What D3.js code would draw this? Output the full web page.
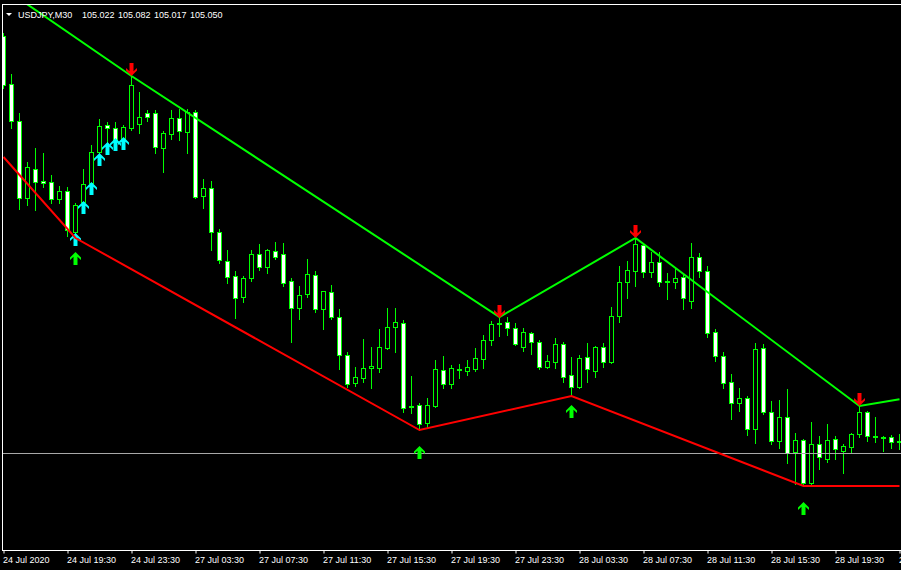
<!DOCTYPE html>
<html><head><meta charset="utf-8">
<script src="https://cdn.jsdelivr.net/npm/d3@7"></script>
<style>html,body{margin:0;padding:0;background:#000;}svg{display:block;}</style>
</head><body>
<script>
// ---------- data (USDJPY M30, bars 24 Jul 15:30 .. 28 Jul 23:30) ----------
const symbolTitle = "USDJPY,M30";
const headerValues = ["105.022", "105.082", "105.017", "105.050"];

const tickLabels = ["24 Jul 2020","24 Jul 19:30","24 Jul 23:30","27 Jul 03:30","27 Jul 07:30","27 Jul 11:30","27 Jul 15:30","27 Jul 19:30","27 Jul 23:30","28 Jul 03:30","28 Jul 07:30","28 Jul 11:30","28 Jul 15:30","28 Jul 19:30","28 Jul 23:30"];
const tickBars = [0,8,16,24,32,40,48,56,64,72,80,88,96,104,112];

const open = [
106.257,106.113,106.002,105.771,105.858,105.822,105.819,105.768,105.792,105.669,
105.759,105.816,105.909,105.990,105.981,105.945,105.981,105.993,106.026,106.026,
105.921,105.963,106.011,105.969,106.029,105.777,105.801,105.669,105.582,105.537,
105.474,105.531,105.603,105.564,105.612,105.603,105.522,105.441,105.483,105.540,
105.438,105.489,105.414,105.300,105.216,105.231,105.261,105.261,105.321,105.384,
105.396,105.147,105.150,105.096,105.147,105.255,105.213,105.255,105.252,105.258,
105.288,105.345,105.396,105.399,105.381,105.324,105.366,105.339,105.264,105.279,
105.333,105.240,105.204,105.294,105.252,105.324,105.279,105.417,105.519,105.552,
105.630,105.549,105.579,105.522,105.519,105.534,105.462,105.594,105.552,105.369,
105.297,105.219,105.156,105.171,105.078,105.321,105.129,105.042,105.114,105.009,
105.045,104.916,105.033,104.988,105.048,105.012,105.024,105.063,105.129,105.057,
105.054,105.054,105.039];
const high = [
106.266,106.143,106.026,105.879,105.921,105.906,105.840,105.807,105.804,105.756,
105.858,105.930,106.008,105.999,105.999,105.990,106.137,106.089,106.035,106.035,
105.972,106.035,106.038,106.038,106.035,105.828,105.822,105.678,105.615,105.552,
105.537,105.615,105.633,105.618,105.639,105.636,105.531,105.507,105.588,105.552,
105.492,105.510,105.438,105.309,105.264,105.348,105.324,105.378,105.441,105.441,
105.405,105.237,105.156,105.171,105.285,105.297,105.270,105.273,105.285,105.321,
105.360,105.402,105.414,105.414,105.396,105.381,105.369,105.345,105.300,105.351,
105.339,105.294,105.300,105.336,105.327,105.336,105.444,105.567,105.582,105.651,
105.636,105.609,105.609,105.546,105.564,105.540,105.636,105.606,105.567,105.378,
105.309,105.243,105.201,105.177,105.336,105.333,105.162,105.165,105.198,105.066,
105.048,105.099,105.057,105.093,105.057,105.033,105.066,105.147,105.132,105.114,
105.057,105.060,105.063];
const low = [
106.101,105.981,105.738,105.750,105.735,105.804,105.756,105.756,105.657,105.651,
105.747,105.807,105.903,105.930,105.924,105.936,105.975,105.966,106.002,105.906,
105.849,105.948,105.945,105.906,105.771,105.741,105.615,105.576,105.516,105.411,
105.459,105.522,105.555,105.546,105.588,105.507,105.339,105.408,105.474,105.429,
105.378,105.408,105.258,105.204,105.207,105.219,105.201,105.249,105.318,105.309,
105.129,105.126,105.075,105.081,105.144,105.201,105.201,105.231,105.240,105.252,
105.261,105.330,105.357,105.360,105.330,105.312,105.303,105.258,105.261,105.261,
105.219,105.177,105.201,105.219,105.234,105.264,105.276,105.399,105.471,105.507,
105.534,105.534,105.507,105.468,105.501,105.438,105.441,105.534,105.354,105.282,
105.201,105.108,105.132,105.060,105.036,105.123,105.033,105.021,104.976,104.913,
104.907,104.913,104.958,104.979,104.988,104.946,105.006,105.054,105.042,105.039,
105.012,105.021,105.018];
const close = [
106.110,106.002,105.771,105.864,105.819,105.816,105.768,105.792,105.675,105.750,
105.813,105.909,105.987,105.981,105.945,105.984,106.110,106.014,106.014,105.924,
105.966,106.011,105.972,106.029,105.774,105.801,105.669,105.585,105.534,105.471,
105.531,105.603,105.564,105.615,105.594,105.516,105.441,105.480,105.543,105.438,
105.492,105.414,105.300,105.213,105.234,105.261,105.267,105.324,105.384,105.399,
105.141,105.144,105.093,105.150,105.258,105.213,105.261,105.258,105.264,105.291,
105.345,105.393,105.393,105.381,105.333,105.369,105.339,105.264,105.282,105.333,
105.234,105.204,105.291,105.258,105.324,105.279,105.417,105.519,105.555,105.633,
105.549,105.579,105.519,105.519,105.531,105.471,105.594,105.552,105.366,105.297,
105.216,105.156,105.171,105.078,105.318,105.129,105.042,105.114,105.006,105.045,
104.916,105.033,104.994,105.045,105.018,105.027,105.063,105.129,105.057,105.054,
105.051,105.039,105.042];

// indicator lines: [bar index, price] pivots
const upperLineBars   = [0, 16, 62, 79, 107, 112];
const upperLinePrices = [106.401, 106.137, 105.414, 105.651, 105.147, 105.167];
const lowerLineBars   = [0, 9, 52, 71, 100, 112];
const lowerLinePrices = [105.894, 105.651, 105.075, 105.177, 104.907, 104.907];

// arrows (tip price)
const sellArrowBars   = [16, 62, 79, 107];
const sellArrowPrices = [106.137, 105.411, 105.651, 105.147];
const buyArrowBars    = [9, 52, 71, 100];
const buyArrowPrices  = [105.609, 105.027, 105.150, 104.859];
const cyanArrowBars   = [9, 10, 11, 12, 13, 14, 15];
const cyanArrowPrices = [105.666, 105.762, 105.819, 105.906, 105.939, 105.951, 105.954];

const hLinePrice = 105.007;

// ---------- drawing ----------
const W = 901, H = 570;
const plotTop = 5, plotBottom = 550, plotLeft = 3;
const svg = d3.select("body").append("svg").attr("width", W).attr("height", H);
svg.append("rect").attr("width", W).attr("height", H).attr("fill", "#000");

const x = d3.scaleLinear().domain([0, 112]).range([3, 899]);
const y = d3.scaleLinear().domain([104.715, 106.35]).range([plotBottom, plotTop]);

svg.append("clipPath").attr("id", "plotclip").append("rect")
  .attr("x", plotLeft).attr("y", plotTop).attr("width", W - plotLeft).attr("height", plotBottom - plotTop);
const plot = svg.append("g").attr("clip-path", "url(#plotclip)");

const GREEN = "#00ff00";
const bars = d3.range(open.length).map(i => ({i, o: open[i], h: high[i], l: low[i], c: close[i]}));

const cg = plot.append("g");
bars.forEach(b => {
  const cx = Math.round(x(b.i));
  const yh = Math.round(y(b.h)), yl = Math.round(y(b.l));
  cg.append("line").attr("x1", cx + 0.5).attr("x2", cx + 0.5)
    .attr("y1", yh).attr("y2", yl + 1).attr("stroke", GREEN).attr("stroke-width", 1);
  const top = Math.round(y(Math.max(b.o, b.c))), bot = Math.round(y(Math.min(b.o, b.c)));
  if (bot - top < 1) {
    cg.append("line").attr("x1", cx - 2).attr("x2", cx + 3)
      .attr("y1", top + 0.5).attr("y2", top + 0.5).attr("stroke", GREEN).attr("stroke-width", 1);
  } else {
    cg.append("rect").attr("x", cx - 1.5).attr("y", top + 0.5).attr("width", 4).attr("height", bot - top)
      .attr("fill", b.c < b.o ? "#ffffff" : "#000000").attr("stroke", GREEN).attr("stroke-width", 1);
  }
});

// arrow shapes (tip at 0,0, pointing up)
const upArrow = "M0,0 L5.5,5.5 L5.5,8 L2,4.8 L2,13 L-2,13 L-2,4.8 L-5.5,8 L-5.5,5.5 Z";
const downArrow = "M0,0 L5.5,-5.5 L5.5,-8 L2,-4.8 L2,-13 L-2,-13 L-2,-4.8 L-5.5,-8 L-5.5,-5.5 Z";

// cyan arrows
plot.append("g").selectAll("path").data(cyanArrowBars).join("path")
  .attr("d", upArrow).attr("fill", "#00ffff")
  .attr("transform", (d, k) => `translate(${Math.round(x(d)) + 0.5},${Math.round(y(cyanArrowPrices[k]))})`);

// horizontal gray line
plot.append("line").attr("x1", 0).attr("x2", W)
  .attr("y1", Math.round(y(hLinePrice)) + 0.5).attr("y2", Math.round(y(hLinePrice)) + 0.5)
  .attr("stroke", "#a8a8a8").attr("stroke-width", 1);

// indicator lines
const lineGen = d3.line().x(d => x(d[0]) + 0.5).y(d => y(d[1]));
plot.append("path").datum(upperLineBars.map((b, k) => [b, upperLinePrices[k]]))
  .attr("d", lineGen).attr("fill", "none").attr("stroke", GREEN).attr("stroke-width", 2);
plot.append("path").datum(lowerLineBars.map((b, k) => [b, lowerLinePrices[k]]))
  .attr("d", lineGen).attr("fill", "none").attr("stroke", "#ff0000").attr("stroke-width", 2);

// buy / sell arrows
plot.append("g").selectAll("path").data(buyArrowBars).join("path")
  .attr("d", upArrow).attr("fill", GREEN)
  .attr("transform", (d, k) => `translate(${Math.round(x(d)) + 0.5},${Math.round(y(buyArrowPrices[k]))})`);
plot.append("g").selectAll("path").data(sellArrowBars).join("path")
  .attr("d", downArrow).attr("fill", "#ff0000")
  .attr("transform", (d, k) => `translate(${Math.round(x(d)) + 0.5},${Math.round(y(sellArrowPrices[k]))})`);

// frame
svg.append("line").attr("x1", 2).attr("x2", W).attr("y1", 4.5).attr("y2", 4.5).attr("stroke", "#fff");
svg.append("line").attr("x1", 2.5).attr("x2", 2.5).attr("y1", 4).attr("y2", 551).attr("stroke", "#fff");

// x axis
const axis = d3.axisBottom(x).tickValues(tickBars).tickFormat((d, k) => tickLabels[k]).tickSize(3).tickSizeOuter(0);
const ag = svg.append("g").attr("transform", `translate(0.5,${plotBottom + 0.5})`).call(axis);
ag.select(".domain").remove();
ag.selectAll(".tick line").attr("stroke", "#fff");
ag.selectAll(".tick text").attr("fill", "#fff").attr("text-anchor", "start").attr("x", -1)
  .style("font-family", "'Liberation Sans', Arial, sans-serif").style("font-size", "9px");
svg.append("line").attr("x1", 2).attr("x2", W).attr("y1", plotBottom + 0.5).attr("y2", plotBottom + 0.5).attr("stroke", "#fff");

// header
svg.append("path").attr("d", "M6,13 L12,13 L9,16 Z").attr("fill", "#fff");
const hdr = svg.append("g").style("font-family", "'Liberation Sans', Arial, sans-serif").style("font-size", "9px").attr("fill", "#fff");
hdr.append("text").attr("x", 18).attr("y", 18).text(symbolTitle);
const hx = [82, 118, 154, 190];
headerValues.forEach((v, k) => hdr.append("text").attr("x", hx[k]).attr("y", 18).text(v));
</script>
</body></html>
